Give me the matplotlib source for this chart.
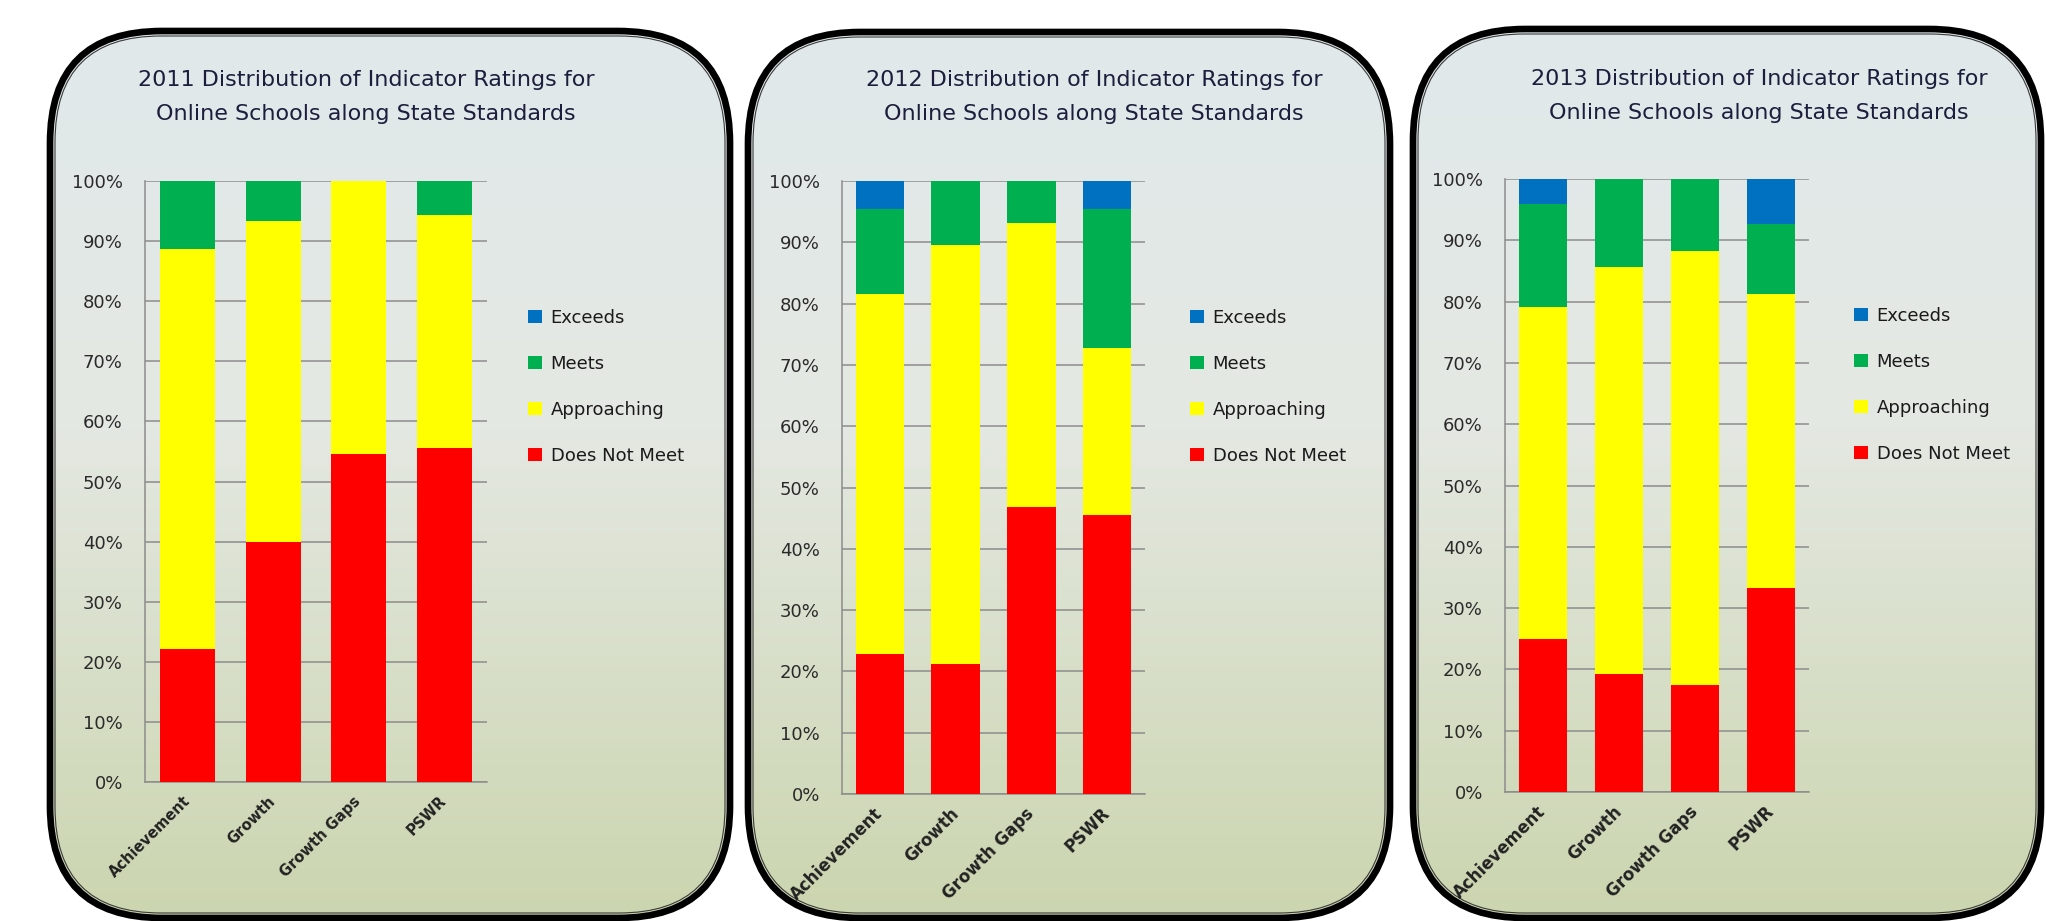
import matplotlib
matplotlib.use("Agg")

import numpy as np
import matplotlib.pyplot as plt
from matplotlib.patches import FancyBboxPatch
from matplotlib.colors import LinearSegmentedColormap

W, H = 2046, 921

YEARS = ["2011", "2012", "2013"]
CATEGORIES = ["Achievement", "Growth", "Growth Gaps", "PSWR"]
RATINGS = ["Does Not Meet", "Approaching", "Meets", "Exceeds"]
COLORS = ["#ff0000", "#ffff00", "#00b050", "#0070c0"]
Y_TICKS = [0, 10, 20, 30, 40, 50, 60, 70, 80, 90, 100]
Y_TICK_LABELS = ["0%", "10%", "20%", "30%", "40%", "50%", "60%", "70%", "80%", "90%", "100%"]

# share of schools (%) per rating, order follows CATEGORIES
DNM_2011 = [22.2, 40.0, 54.5, 55.5]
APP_2011 = [66.5, 53.4, 45.5, 38.9]
MEETS_2011 = [11.3, 6.6, 0.0, 5.6]
EXC_2011 = [0.0, 0.0, 0.0, 0.0]

DNM_2012 = [22.8, 21.2, 46.8, 45.5]
APP_2012 = [58.8, 68.4, 46.4, 27.2]
MEETS_2012 = [13.9, 10.4, 6.8, 22.8]
EXC_2012 = [4.5, 0.0, 0.0, 4.5]

DNM_2013 = [25.0, 19.2, 17.4, 33.3]
APP_2013 = [54.1, 66.4, 70.9, 48.0]
MEETS_2013 = [16.9, 14.4, 11.7, 11.3]
EXC_2013 = [4.0, 0.0, 0.0, 7.4]

SERIES = {
    "2011": [DNM_2011, APP_2011, MEETS_2011, EXC_2011],
    "2012": [DNM_2012, APP_2012, MEETS_2012, EXC_2012],
    "2013": [DNM_2013, APP_2013, MEETS_2013, EXC_2013],
}

# layout in pixels (x0, y0, x1, y1), y measured from the top
PANELS = [(47, 28, 733, 921), (745, 29, 1393, 921), (1410, 26, 2044, 921)]
PLOTS = [(145, 181, 487, 782), (842, 181, 1145, 794), (1505, 179, 1809, 792)]
TITLE_POS = [(366, 80), (1094, 80), (1759, 79)]
LEGEND_POS = [(528, 309), (1190, 309), (1854, 307)]
XLABEL_SIZE = [10.5, 12, 12]

fig = plt.figure(figsize=(W / 100, H / 100), dpi=100)
bg = fig.add_axes([0, 0, 1, 1])
bg.set_xlim(0, W)
bg.set_ylim(H, 0)
bg.axis("off")

grad_cmap = LinearSegmentedColormap.from_list(
    "panel", [(0.0, "#e1e9eb"), (0.45, "#e4e8e2"), (1.0, "#cbd5ae")])
grad = np.linspace(0, 1, 256).reshape(-1, 1)

for (x0, y0, x1, y1) in PANELS:
    box = FancyBboxPatch((x0 + 3, y0 + 3), x1 - x0 - 6, y1 - y0 - 6,
                         boxstyle="round,pad=0,rounding_size=112",
                         facecolor="none", edgecolor="black", lw=4.8, zorder=3)
    bg.add_patch(box)
    im = bg.imshow(grad, cmap=grad_cmap, extent=(x0, x1, y1, y0), origin="upper",
                   aspect="auto", zorder=1)
    im.set_clip_path(box)
    inner = FancyBboxPatch((x0 + 8, y0 + 8), x1 - x0 - 16, y1 - y0 - 16,
                           boxstyle="round,pad=0,rounding_size=106",
                           facecolor="none", edgecolor="#3a3a3a", lw=0.8, zorder=3)
    bg.add_patch(inner)

bg.set_xlim(0, W)
bg.set_ylim(H, 0)

for i, year in enumerate(YEARS):
    tx, ty = TITLE_POS[i]
    bg.text(tx, ty, f"{year} Distribution of Indicator Ratings for", ha="center", va="center",
            fontsize=16, color="#1d1d3d", zorder=4)
    bg.text(tx, ty + 34, "Online Schools along State Standards", ha="center", va="center",
            fontsize=16, color="#1d1d3d", zorder=4)

    px0, py0, px1, py1 = PLOTS[i]
    ax = fig.add_axes([px0 / W, 1 - py1 / H, (px1 - px0) / W, (py1 - py0) / H])
    ax.set_facecolor("none")
    x = np.arange(len(CATEGORIES))
    bottom = np.zeros(len(CATEGORIES))
    bars = []
    for vals, name, col in zip(SERIES[year], RATINGS, COLORS):
        b = ax.bar(x, vals, width=0.64, bottom=bottom, color=col, label=name, zorder=3)
        bars.append(b)
        bottom += np.array(vals)

    ax.set_xlim(-0.5, len(CATEGORIES) - 0.5)
    ax.set_ylim(0, 100)
    ax.set_yticks(Y_TICKS)
    ax.set_yticklabels(Y_TICK_LABELS)
    ax.yaxis.grid(True, color="#8c8c8c", lw=1.1, zorder=0)
    ax.set_xticks(x)
    ax.set_xticklabels(CATEGORIES, rotation=45, ha="right", va="center",
                       rotation_mode="anchor", fontweight="bold",
                       fontsize=XLABEL_SIZE[i], color="#222222")
    ax.tick_params(axis="y", length=0, pad=16, labelsize=13, labelcolor="#2a2a2a")
    ax.tick_params(axis="x", length=0, pad=12)
    for side in ("top", "right"):
        ax.spines[side].set_visible(False)
    for side in ("left", "bottom"):
        ax.spines[side].set_color("#8c8c8c")
        ax.spines[side].set_linewidth(1.1)

    lx, ly = LEGEND_POS[i]
    ax.legend(bars[::-1], RATINGS[::-1], loc="upper left",
              bbox_to_anchor=(lx / W, 1 - ly / H), bbox_transform=fig.transFigure,
              frameon=False, fontsize=13, handlelength=0.75, handleheight=0.75,
              handletextpad=0.5, labelspacing=1.55, borderpad=0, borderaxespad=0,
              labelcolor="#1a1a1a")

fig.savefig("out.png", dpi=100)
